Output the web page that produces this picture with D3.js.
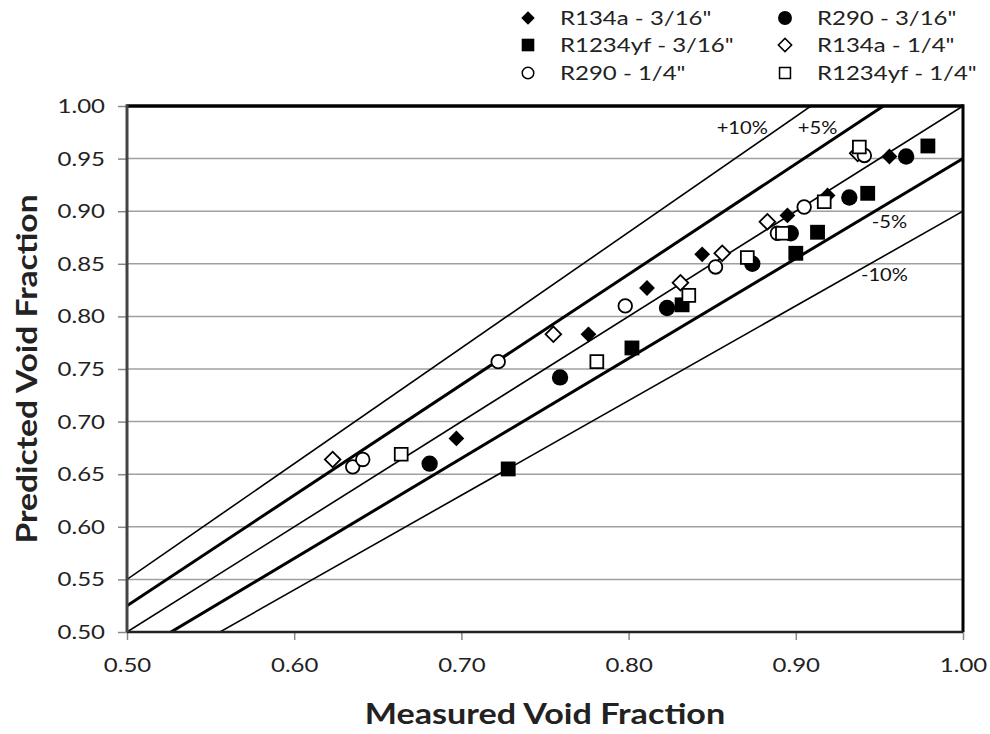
<!DOCTYPE html>
<html>
<head>
<meta charset="utf-8">
<script src="https://cdn.jsdelivr.net/npm/d3@7"></script>
<style>
  body { margin: 0; background: #fff; }
  text { font-family: Lato, "Open Sans", sans-serif; }
</style>
</head>
<body>
<script>
const width = 990
const height = 734
const margin = ({top: 106, right: 27, bottom: 102, left: 127})
const stretch = 1.2   // the reference text is drawn wide

// measured / predicted void fraction
const r134a316Measured = [0.697, 0.776, 0.811, 0.844, 0.895, 0.919, 0.956]
const r134a316Predicted = [0.684, 0.783, 0.827, 0.859, 0.896, 0.915, 0.952]
const r290316Measured = [0.681, 0.759, 0.823, 0.874, 0.897, 0.932, 0.966]
const r290316Predicted = [0.660, 0.742, 0.808, 0.850, 0.879, 0.913, 0.952]
const r1234yf316Measured = [0.728, 0.802, 0.832, 0.900, 0.913, 0.943, 0.979]
const r1234yf316Predicted = [0.655, 0.770, 0.811, 0.860, 0.880, 0.917, 0.962]
const r134a14Measured = [0.623, 0.755, 0.831, 0.856, 0.883, 0.937]
const r134a14Predicted = [0.664, 0.783, 0.832, 0.860, 0.890, 0.955]
const r290r14Measured = [0.635, 0.641, 0.722, 0.798, 0.852, 0.889, 0.905, 0.941]
const r290r14Predicted = [0.657, 0.664, 0.757, 0.810, 0.847, 0.879, 0.904, 0.953]
const r1234yf14Measured = [0.664, 0.781, 0.836, 0.871, 0.892, 0.917, 0.938]
const r1234yf14Predicted = [0.669, 0.757, 0.820, 0.856, 0.879, 0.909, 0.961]

const xTicks = [0.5, 0.6, 0.7, 0.8, 0.9, 1.0]
const yTicks = [0.5, 0.55, 0.6, 0.65, 0.7, 0.75, 0.8, 0.85, 0.9, 0.95, 1.0]

// error band lines (predicted = factor * measured) and their labels
const bandFactors = [1.1, 1.05, 1.0, 0.95, 0.9]
const bandLabels = ["+10%", "+5%", "", "-5%", "-10%"]

const series = [
    {name: 'R134a - 3/16"', x: r134a316Measured, y: r134a316Predicted, shape: "diamond", filled: true},
    {name: 'R290 - 3/16"', x: r290316Measured, y: r290316Predicted, shape: "circle", filled: true},
    {name: 'R1234yf - 3/16"', x: r1234yf316Measured, y: r1234yf316Predicted, shape: "square", filled: true},
    {name: 'R134a - 1/4"', x: r134a14Measured, y: r134a14Predicted, shape: "diamond", filled: false},
    {name: 'R290 - 1/4"', x: r290r14Measured, y: r290r14Predicted, shape: "circle", filled: false},
    {name: 'R1234yf - 1/4"', x: r1234yf14Measured, y: r1234yf14Predicted, shape: "square", filled: false},
]

let x = d3.scaleLinear()
    .domain([0.5, 1.0])
    .range([margin.left, width - margin.right])

let y = d3.scaleLinear()
    .domain([0.5, 1.0])
    .range([height - margin.bottom, margin.top])

function symbolFor(s) {
    if (s.shape == "circle") return d3.symbol(d3.symbolCircle, s.filled ? 210 : 145)()
    if (s.shape == "square") return d3.symbol(d3.symbolSquare, s.filled ? 220 : 165)()
    return d3.symbol(d3.symbolSquare, s.filled ? 125 : 122)()
}

const svg = d3.select("body").append("svg").attr("width", width).attr("height", height)

svg.append("defs").append("clipPath").attr("id", "plot")
  .append("rect")
    .attr("x", x(0.5)).attr("y", y(1.0))
    .attr("width", x(1.0) - x(0.5)).attr("height", y(0.5) - y(1.0))

// gridlines
svg.append("g")
    .attr("stroke", "#a0a0a0")
    .attr("stroke-width", 1.5)
  .selectAll("line")
  .data(yTicks.slice(1, -1))
  .join("line")
    .attr("x1", x(0.5)).attr("x2", x(1.0))
    .attr("y1", d => y(d)).attr("y2", d => y(d))

// axes
svg.append("g")
    .attr("transform", `translate(0,${y(0.5)})`)
    .call(d3.axisBottom(x).tickValues(xTicks).tickFormat(d3.format(".2f")).tickSize(8))
    .call(g => g.select(".domain").remove())
    .call(g => g.selectAll(".tick line").attr("stroke", "#888").attr("stroke-width", 1.5))
    .call(g => g.selectAll(".tick text")
        .attr("y", 0).attr("dy", 0)
        .attr("transform", `translate(0,40) scale(${stretch},1)`)
        .attr("font-size", 20).attr("fill", "#222").attr("font-family", "Lato"))

svg.append("g")
    .attr("transform", `translate(${x(0.5)},0)`)
    .call(d3.axisLeft(y).tickValues(yTicks).tickFormat(d3.format(".2f")).tickSize(9))
    .call(g => g.select(".domain").remove())
    .call(g => g.selectAll(".tick line").attr("stroke", "#888").attr("stroke-width", 1.5))
    .call(g => g.selectAll(".tick text")
        .attr("x", 0)
        .attr("transform", `translate(-22,0) scale(${stretch},1)`)
        .attr("font-size", 20).attr("fill", "#222").attr("font-family", "Lato"))

// band lines
svg.append("g")
    .attr("clip-path", "url(#plot)")
    .attr("stroke", "#000")
  .selectAll("line")
  .data(bandFactors)
  .join("line")
    .attr("stroke-width", d => (d == 1.05 || d == 0.95) ? 3 : 1.6)
    .attr("x1", x(0.5)).attr("y1", d => y(0.5 * d))
    .attr("x2", x(1.0)).attr("y2", d => y(1.0 * d))

// plot frame
const frame = svg.append("g").attr("fill", "none")
frame.append("line").attr("x1", x(0.5)).attr("x2", x(1.0)).attr("y1", y(1.0)).attr("y2", y(1.0))
    .attr("stroke", "#000").attr("stroke-width", 3.5)
frame.append("line").attr("x1", x(1.0)).attr("x2", x(1.0)).attr("y1", y(1.0) - 1.7).attr("y2", y(0.5))
    .attr("stroke", "#000").attr("stroke-width", 3)
frame.append("line").attr("x1", x(0.5)).attr("x2", x(1.0)).attr("y1", y(0.5)).attr("y2", y(0.5))
    .attr("stroke", "#222").attr("stroke-width", 2.5)
frame.append("line").attr("x1", x(0.5)).attr("x2", x(0.5)).attr("y1", y(1.0) - 1.7).attr("y2", y(0.5))
    .attr("stroke", "#444").attr("stroke-width", 3)

// band labels (position in data units)
const labelPos = [[0.868, 0.979], [0.913, 0.979], null, [0.956, 0.890], [0.953, 0.840]]
svg.append("g")
    .attr("font-size", 18)
    .attr("text-anchor", "middle")
  .selectAll("text")
  .data(bandLabels.map((t, i) => ({t, p: labelPos[i]})).filter(d => d.p))
  .join("text")
    .attr("transform", d => `translate(${x(d.p[0])},${y(d.p[1])}) scale(1.12,1)`)
    .attr("dy", "0.35em")
    .attr("fill", "#111")
    .text(d => d.t)

// points
series.forEach(s => {
    svg.append("g")
      .selectAll("path")
      .data(s.x.map((v, i) => [v, s.y[i]]))
      .join("path")
        .attr("d", symbolFor(s))
        .attr("transform", d => `translate(${x(d[0])},${y(d[1])})` + (s.shape == "diamond" ? " rotate(45)" : ""))
        .attr("fill", s.filled ? "#000" : "#fff")
        .attr("stroke", "#000")
        .attr("stroke-width", s.filled ? 0 : 1.8)
})

// legend
const legendCols = [528, 785]
const legendRows = [18, 45, 73]
const legend = svg.append("g").attr("font-size", 20)
series.forEach((s, i) => {
    const lx = legendCols[i % 2]
    const ly = legendRows[Math.floor(i / 2)]
    legend.append("path")
        .attr("d", symbolFor(s))
        .attr("transform", `translate(${lx},${ly})` + (s.shape == "diamond" ? " rotate(45)" : "") + " scale(0.85)")
        .attr("fill", s.filled ? "#000" : "#fff")
        .attr("stroke", "#000")
        .attr("stroke-width", s.filled ? 0 : 1.8)
    legend.append("text")
        .attr("transform", `translate(${lx + 32},${ly}) scale(${stretch},1)`)
        .attr("dy", "0.35em")
        .attr("fill", "#222")
        .text(s.name)
})

// axis titles
svg.append("text")
    .attr("transform", `translate(${(x(0.5) + x(1.0)) / 2},724) scale(1.22,1)`)
    .attr("text-anchor", "middle")
    .attr("font-size", 28)
    .attr("font-weight", "bold")
    .attr("fill", "#222")
    .text("Measured Void Fraction")

svg.append("text")
    .attr("transform", `translate(37,${(y(0.5) + y(1.0)) / 2}) rotate(-90) scale(1.2,1)`)
    .attr("text-anchor", "middle")
    .attr("font-size", 28)
    .attr("font-weight", "bold")
    .attr("fill", "#222")
    .text("Predicted Void Fraction")
</script>
</body>
</html>
